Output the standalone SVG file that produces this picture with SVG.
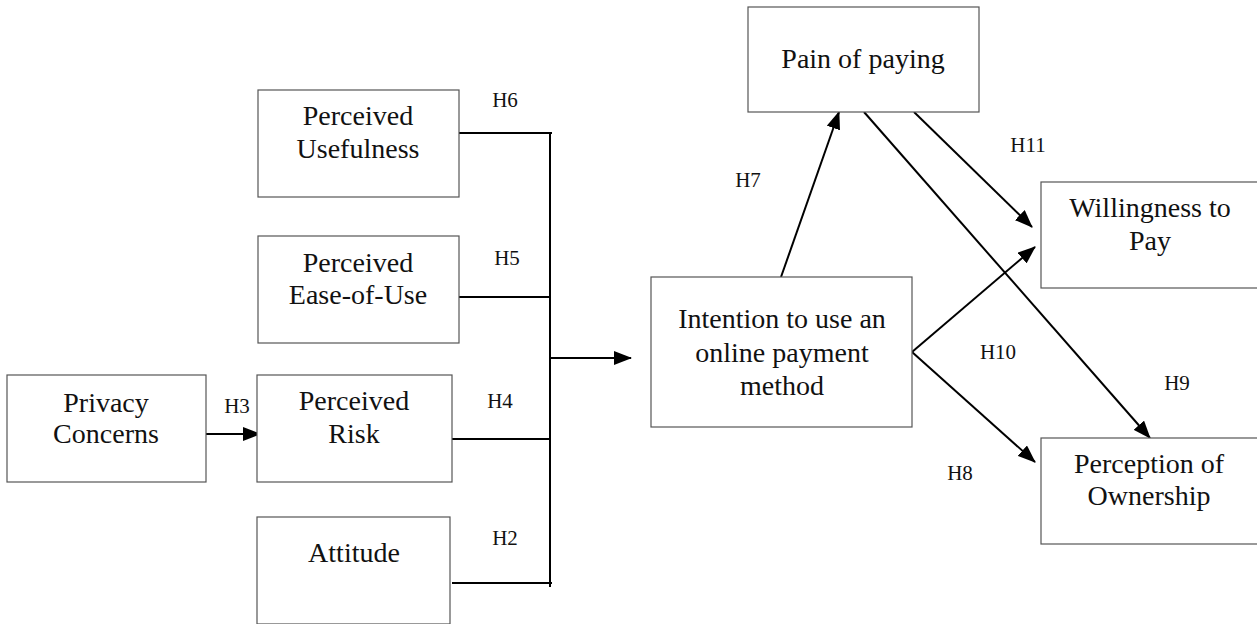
<svg xmlns="http://www.w3.org/2000/svg" width="1257" height="624" viewBox="0 0 1257 624">
<style>
.box{fill:#fff;stroke:#555;stroke-width:1.2}
.t{font-family:'Liberation Serif','Times New Roman','DejaVu Serif',serif;font-size:28px;fill:#111;text-anchor:middle}
.h{font-family:'Liberation Serif','Times New Roman','DejaVu Serif',serif;font-size:21px;fill:#111;text-anchor:middle}
.c{stroke:#000;stroke-width:2;fill:none}
</style>
<defs>
<marker id="ah" markerUnits="userSpaceOnUse" markerWidth="18" markerHeight="14" refX="17" refY="7" orient="auto">
<path d="M0,0 L18,7 L0,14 Z" fill="#000"/>
</marker>
</defs>
<rect width="1257" height="624" fill="#fff"/>
<g id="connectors">
<line class="c" x1="459" y1="133" x2="552" y2="133"/>
<line class="c" x1="459" y1="297" x2="550" y2="297"/>
<line class="c" x1="452" y1="439" x2="550" y2="439"/>
<line class="c" x1="452" y1="583" x2="552" y2="583" stroke-width="3"/>
<line class="c" x1="550" y1="134" x2="550" y2="587"/>
<line class="c" x1="550" y1="358" x2="631" y2="358" marker-end="url(#ah)"/>
<line class="c" x1="206" y1="434" x2="260" y2="434" marker-end="url(#ah)"/>
<line class="c" x1="781" y1="277" x2="839" y2="112" marker-end="url(#ah)"/>
<line class="c" x1="914" y1="112" x2="1032" y2="227" marker-end="url(#ah)"/>
<line class="c" x1="864" y1="112" x2="1150" y2="438" marker-end="url(#ah)"/>
<line class="c" x1="912" y1="352" x2="1035" y2="247" marker-end="url(#ah)"/>
<line class="c" x1="912" y1="352" x2="1035" y2="462" marker-end="url(#ah)"/>
</g>
<g id="labels">
<text class="h" x="505" y="107">H6</text>
<text class="h" x="507" y="265">H5</text>
<text class="h" x="500" y="408">H4</text>
<text class="h" x="505" y="545">H2</text>
<text class="h" x="237" y="413">H3</text>
<text class="h" x="748" y="187">H7</text>
<text class="h" x="1028" y="152">H11</text>
<text class="h" x="998" y="359">H10</text>
<text class="h" x="1177" y="390">H9</text>
<text class="h" x="960" y="480">H8</text>
</g>
<g id="perceived-usefulness">
<rect class="box" x="258" y="90" width="201" height="107"/>
<text class="t" x="358" y="125">Perceived</text>
<text class="t" x="358" y="158">Usefulness</text>
</g>
<g id="perceived-ease-of-use">
<rect class="box" x="258" y="236" width="201" height="107"/>
<text class="t" x="358" y="272">Perceived</text>
<text class="t" x="358" y="304">Ease-of-Use</text>
</g>
<g id="privacy-concerns">
<rect class="box" x="7" y="375" width="199" height="107"/>
<text class="t" x="106" y="412">Privacy</text>
<text class="t" x="106" y="443">Concerns</text>
</g>
<g id="perceived-risk">
<rect class="box" x="257" y="375" width="195" height="107"/>
<text class="t" x="354" y="410">Perceived</text>
<text class="t" x="354" y="443">Risk</text>
</g>
<g id="attitude">
<rect class="box" x="257" y="517" width="193" height="107"/>
<text class="t" x="354" y="562">Attitude</text>
</g>
<g id="intention">
<rect class="box" x="651" y="277" width="261" height="150"/>
<text class="t" x="782" y="328">Intention to use an</text>
<text class="t" x="782" y="362">online payment</text>
<text class="t" x="782" y="395">method</text>
</g>
<g id="pain-of-paying">
<rect class="box" x="748" y="7" width="231" height="105"/>
<text class="t" x="863" y="68">Pain of paying</text>
</g>
<g id="willingness-to-pay">
<rect class="box" x="1041" y="182" width="220" height="106"/>
<text class="t" x="1150" y="217">Willingness to</text>
<text class="t" x="1150" y="250">Pay</text>
</g>
<g id="perception-of-ownership">
<rect class="box" x="1041" y="438" width="220" height="106"/>
<text class="t" x="1149" y="473">Perception of</text>
<text class="t" x="1149" y="505">Ownership</text>
</g>
</svg>
